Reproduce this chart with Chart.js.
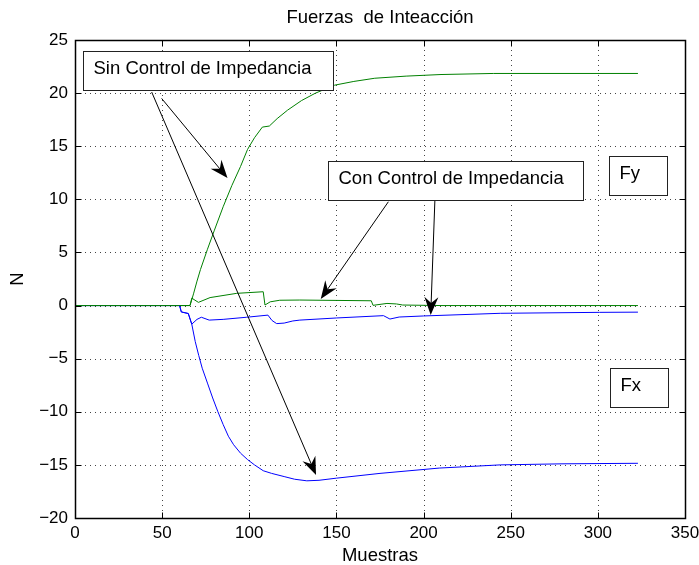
<!DOCTYPE html>
<html>
<head>
<meta charset="utf-8">
<title>Fuerzas de Inteacción</title>
<script src="https://cdn.jsdelivr.net/npm/chart.js@4.4.1/dist/chart.umd.min.js"></script>
<style>
  html, body { margin: 0; padding: 0; background: #fff; }
  canvas { display: block; }
</style>
</head>
<body>
<canvas id="chart" width="699" height="565"></canvas>
<script>
// Fy without impedance control (big green curve)
const fySinX = [0, 60, 66, 68, 70, 72, 76, 80, 85, 90, 95, 99, 103, 107.5, 111.5, 116, 122, 130, 138, 149, 160, 172, 190, 210, 240, 280, 323];
const fySinY = [0, 0, 0, 1.1, 2.3, 3.4, 5.3, 7.1, 9.3, 11.3, 13.1, 14.7, 15.8, 16.8, 16.9, 17.6, 18.4, 19.3, 20.0, 20.75, 21.1, 21.4, 21.6, 21.75, 21.85, 21.85, 21.85];

// Fx without impedance control (big blue curve)
const fxSinX = [0, 60, 61, 65, 67, 69, 71, 73, 76, 79, 82, 85, 88, 91, 95, 99, 103, 108, 112.8, 120, 126, 133, 140, 150, 175, 209, 244, 280, 323];
const fxSinY = [0, 0, -0.6, -0.75, -1.75, -3.4, -4.7, -5.9, -7.3, -8.7, -10.0, -11.2, -12.3, -13.1, -13.9, -14.5, -15.0, -15.55, -15.8, -16.1, -16.35, -16.5, -16.45, -16.25, -15.8, -15.3, -15.0, -14.9, -14.85];

// Fy with impedance control (small green curve)
const fyConX = [0, 66, 67, 70.8, 77.5, 92.8, 108, 109, 112, 117.5, 129, 170, 171, 179, 184.5, 188, 210, 323];
const fyConY = [0, 0, 0.7, 0.3, 0.75, 1.15, 1.3, 0.05, 0.35, 0.5, 0.52, 0.45, 0.02, 0.2, 0.15, 0.05, 0.0, 0.0];

// Fx with impedance control (small blue curve)
const fxConX = [0, 60, 61, 65, 67, 70, 72.5, 77, 85, 98.5, 110.7, 113, 115.7, 120, 125, 129, 150, 177, 180.7, 186, 200, 244, 301, 323];
const fxConY = [0, 0, -0.6, -0.75, -1.75, -1.3, -1.1, -1.37, -1.3, -1.1, -0.9, -1.4, -1.7, -1.65, -1.45, -1.37, -1.17, -0.95, -1.27, -1.08, -0.98, -0.73, -0.64, -0.62];

const xTicks = [0, 50, 100, 150, 200, 250, 300, 350];
const yTicks = [-20, -15, -10, -5, 0, 5, 10, 15, 20, 25];

const FONT = "'Liberation Sans', Arial, sans-serif";

function pts(xs, ys) {
  return xs.map((x, i) => ({ x: x, y: ys[i] }));
}

// text boxes and arrows, in data units
const boxes = [
  { text: 'Sin Control de Impedancia', x0: 4.4, x1: 148.2, y0: 24.0, y1: 20.3 },
  { text: 'Con Control de Impedancia', x0: 145.3, x1: 291.6, y0: 13.6, y1: 9.93 },
  { text: 'Fy', x0: 306.4, x1: 339.5, y0: 14.1, y1: 10.4 },
  { text: 'Fx', x0: 307.0, x1: 340.1, y0: -5.91, y1: -9.58 }
];
const arrows = [
  { from: [44.0, 20.1], to: [138.3, -15.96] },
  { from: [49.7, 19.5], to: [87.5, 12.0] },
  { from: [179.8, 9.77], to: [141.0, 0.61] },
  { from: [206.5, 9.93], to: [204.1, -0.89] }
];

const gridPlugin = {
  id: 'matlabGrid',
  beforeDatasetsDraw(chart) {
    const { ctx, chartArea: a, scales: { x, y } } = chart;
    ctx.save();
    ctx.strokeStyle = '#444';
    ctx.lineWidth = 1;
    ctx.setLineDash([1, 4]);
    xTicks.forEach(v => {
      const px = Math.round(x.getPixelForValue(v)) + 0.5;
      ctx.beginPath(); ctx.moveTo(px, a.top); ctx.lineTo(px, a.bottom); ctx.stroke();
    });
    yTicks.forEach(v => {
      const py = Math.round(y.getPixelForValue(v)) + 0.5;
      ctx.beginPath(); ctx.moveTo(a.left, py); ctx.lineTo(a.right, py); ctx.stroke();
    });
    ctx.restore();
  }
};

function drawArrow(ctx, x1, y1, x2, y2) {
  const ang = Math.atan2(y2 - y1, x2 - x1);
  const len = 18, half = 7, notch = 12;
  ctx.beginPath();
  ctx.moveTo(x1, y1);
  ctx.lineTo(x2 - Math.cos(ang) * notch, y2 - Math.sin(ang) * notch);
  ctx.stroke();
  const bx = x2 - Math.cos(ang) * len, by = y2 - Math.sin(ang) * len;
  const nx = -Math.sin(ang), ny = Math.cos(ang);
  ctx.beginPath();
  ctx.moveTo(x2, y2);
  ctx.lineTo(bx + nx * half, by + ny * half);
  ctx.lineTo(x2 - Math.cos(ang) * notch, y2 - Math.sin(ang) * notch);
  ctx.lineTo(bx - nx * half, by - ny * half);
  ctx.closePath();
  ctx.fill();
}

const notesPlugin = {
  id: 'notes',
  afterDatasetsDraw(chart) {
    const { ctx, scales: { x, y } } = chart;
    ctx.save();
    ctx.strokeStyle = '#000';
    ctx.fillStyle = '#000';
    ctx.lineWidth = 1;
    arrows.forEach(a => {
      drawArrow(ctx, x.getPixelForValue(a.from[0]), y.getPixelForValue(a.from[1]),
        x.getPixelForValue(a.to[0]), y.getPixelForValue(a.to[1]));
    });
    ctx.font = '18.5px ' + FONT;
    ctx.textBaseline = 'alphabetic';
    ctx.textAlign = 'left';
    boxes.forEach(b => {
      const l = Math.round(x.getPixelForValue(b.x0)) + 0.5;
      const r = Math.round(x.getPixelForValue(b.x1)) + 0.5;
      const t = Math.round(y.getPixelForValue(b.y0)) + 0.5;
      const bt = Math.round(y.getPixelForValue(b.y1)) + 0.5;
      ctx.fillStyle = '#fff';
      ctx.fillRect(l, t, r - l, bt - t);
      ctx.strokeStyle = '#222';
      ctx.strokeRect(l, t, r - l, bt - t);
      ctx.fillStyle = '#000';
      ctx.fillText(b.text, l + 10, t + 22);
    });
    ctx.restore();
  },
  afterDraw(chart) {
    const { ctx, chartArea: a, scales: { x, y } } = chart;
    ctx.save();
    ctx.strokeStyle = '#000';
    ctx.lineWidth = 1;
    const L = Math.round(a.left) + 0.5, R = Math.round(a.right) + 0.5;
    const T = Math.round(a.top) + 0.5, B = Math.round(a.bottom) + 0.5;
    // inner tick marks
    ctx.beginPath();
    xTicks.forEach(v => {
      const px = Math.round(x.getPixelForValue(v)) + 0.5;
      ctx.moveTo(px, B); ctx.lineTo(px, B - 6);
      ctx.moveTo(px, T); ctx.lineTo(px, T + 6);
    });
    yTicks.forEach(v => {
      const py = Math.round(y.getPixelForValue(v)) + 0.5;
      ctx.moveTo(L, py); ctx.lineTo(L + 6, py);
      ctx.moveTo(R, py); ctx.lineTo(R - 6, py);
    });
    ctx.stroke();
    ctx.lineWidth = 1.5;
    ctx.strokeRect(L, T, R - L, B - T);
    // title centred over the axes
    ctx.fillStyle = '#000';
    ctx.font = '18.5px ' + FONT;
    ctx.textAlign = 'center';
    ctx.textBaseline = 'middle';
    ctx.fillText('Fuerzas  de Inteacción', (a.left + a.right) / 2, 18);
    ctx.restore();
  }
};

new Chart(document.getElementById('chart'), {
  type: 'line',
  data: {
    datasets: [
      { label: 'Fy sin control', data: pts(fySinX, fySinY), borderColor: '#008000' },
      { label: 'Fx sin control', data: pts(fxSinX, fxSinY), borderColor: '#0000ff' },
      { label: 'Fy con control', data: pts(fyConX, fyConY), borderColor: '#008000' },
      { label: 'Fx con control', data: pts(fxConX, fxConY), borderColor: '#0000ff' }
    ]
  },
  options: {
    responsive: false,
    animation: false,
    events: [],
    datasets: { line: { borderWidth: 1, pointRadius: 0, tension: 0, fill: false } },
    layout: { padding: { left: 0, top: 40, right: 14, bottom: 0 } },
    plugins: { legend: { display: false }, title: { display: false }, tooltip: { enabled: false } },
    scales: {
      x: {
        type: 'linear', min: 0, max: 350,
        afterBuildTicks: s => { s.ticks = xTicks.map(v => ({ value: v })); },
        afterFit: s => { s.height = 47; s.paddingLeft = 0; s.paddingRight = 0; },
        ticks: { color: '#000', font: { family: FONT, size: 17 }, padding: 5, maxRotation: 0 },
        grid: { display: false, drawTicks: false },
        border: { display: false },
        title: { display: true, text: 'Muestras', color: '#000', font: { family: FONT, size: 18.5, lineHeight: 1 }, padding: { top: 0, bottom: 0 } }
      },
      y: {
        type: 'linear', min: -20, max: 25,
        afterBuildTicks: s => { s.ticks = yTicks.map(v => ({ value: v })); },
        afterFit: s => { s.width = 75; s.paddingTop = 0; s.paddingBottom = 0; },
        ticks: {
          color: '#000', font: { family: FONT, size: 17 }, padding: 7,
          callback: v => (v < 0 ? '\u2212' + Math.abs(v) : String(v))
        },
        grid: { display: false, drawTicks: false },
        border: { display: false },
        title: { display: true, text: 'N', color: '#000', font: { family: FONT, size: 18.5 }, padding: { top: 7, bottom: 0 } }
      }
    }
  },
  plugins: [gridPlugin, notesPlugin]
});
</script>
</body>
</html>
